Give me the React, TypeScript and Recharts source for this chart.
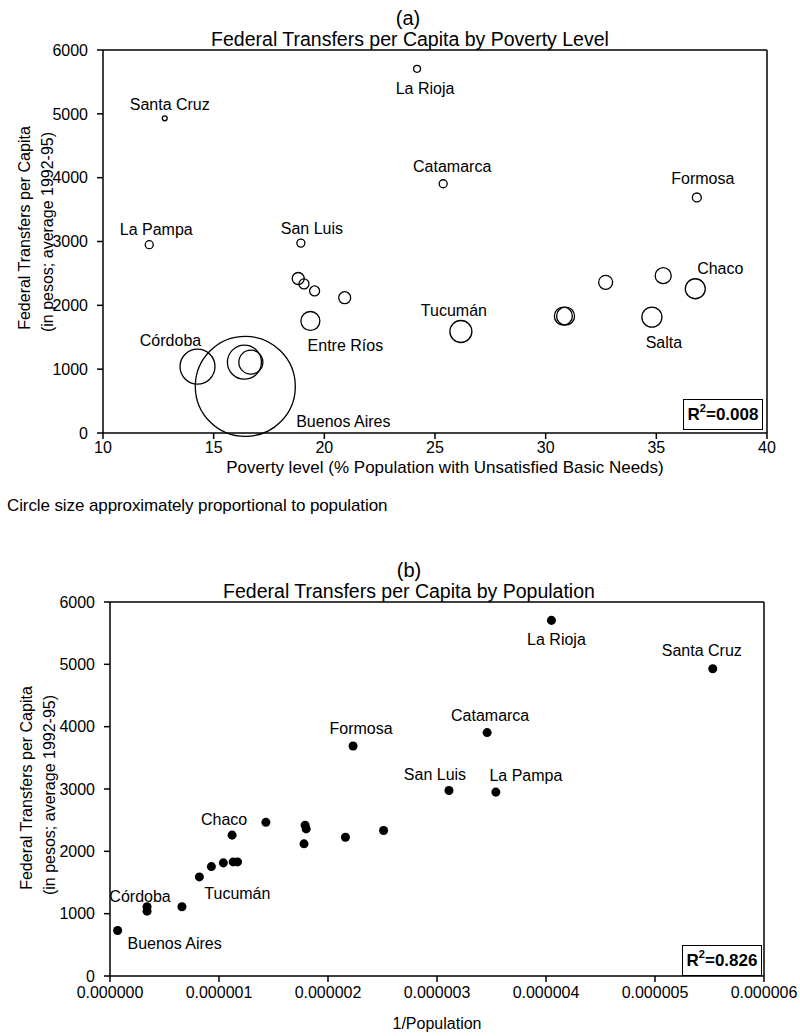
import React from 'react';
import { ScatterChart, Scatter, XAxis, YAxis, ZAxis, ReferenceLine } from 'recharts';

const FONT = '"Liberation Sans", Arial, sans-serif';

// one entry per province, same order in every array
const provinces = [
  'Buenos Aires', 'Córdoba', 'Santa Fe', 'Mendoza', 'Tucumán', 'Entre Ríos',
  'Salta', 'Misiones', 'Corrientes', 'Chaco', 'Santiago del Estero', 'Jujuy',
  'San Juan', 'Río Negro', 'Neuquén', 'Chubut', 'San Luis', 'Formosa',
  'Catamarca', 'La Rioja', 'La Pampa', 'Santa Cruz',
];
// % population with unsatisfied basic needs
const poverty = [
  16.43, 14.27, 16.39, 16.68, 26.17, 19.37,
  34.8, 30.8, 30.9, 36.76, 35.31, 32.71,
  18.82, 20.92, 19.56, 19.08, 18.94, 36.83,
  25.37, 24.19, 12.09, 12.79,
];
// federal transfers per capita, pesos, average 1992-95
const transfers = [
  730, 1040, 1110, 1110, 1590, 1755,
  1815, 1830, 1830, 2260, 2465, 2360,
  2420, 2120, 2225, 2335, 2975, 3690,
  3905, 5705, 2950, 4930,
];
// 1 / population
const inversePopulation = [
  0.00000007, 0.00000034, 0.00000034, 0.00000066, 0.00000082, 0.00000093,
  0.00000104, 0.00000113, 0.00000117, 0.00000112, 0.00000143, 0.0000018,
  0.00000179, 0.00000178, 0.00000216, 0.00000251, 0.00000311, 0.00000223,
  0.00000346, 0.00000405, 0.00000354, 0.00000553,
];
// relative circle area in panel (a), as drawn
const circleSize = [
  2500, 306, 289, 144, 121, 90,
  100, 81, 81, 100, 64, 49,
  36, 36, 25, 25, 16, 20,
  16, 12, 16, 6,
];

const povertyTicks = [10, 15, 20, 25, 30, 35, 40];
const transferTicks = [0, 1000, 2000, 3000, 4000, 5000, 6000];
const inversePopTicks = [0, 0.000001, 0.000002, 0.000003, 0.000004, 0.000005, 0.000006];

// label placement relative to the point centre
const labelOffsetA: Record<string, [number, number]> = {
  'Santa Cruz': [5, -14],
  'La Rioja': [8, 20],
  Catamarca: [9, -17],
  Formosa: [6, -19],
  'La Pampa': [7, -15],
  'San Luis': [11, -15],
  Chaco: [25, -20],
  'Tucumán': [-7, -21],
  'Córdoba': [-27, -26],
  'Entre Ríos': [35, 25],
  Salta: [12, 25],
  'Buenos Aires': [98, 35],
};
const labelOffsetB: Record<string, [number, number]> = {
  'La Rioja': [5, 19],
  'Santa Cruz': [-11, -18],
  Catamarca: [3, -17],
  Formosa: [8, -17],
  'San Luis': [-14, -16],
  'La Pampa': [30, -17],
  Chaco: [-8, -16],
  'Tucumán': [38, 17],
  'Córdoba': [-7, -15],
  'Buenos Aires': [57, 13],
};

const dataA = provinces.map((name, i) => ({ name, x: poverty[i], y: transfers[i], z: circleSize[i] }));
const dataB = provinces.map((name, i) => ({ name, x: inversePopulation[i], y: transfers[i] }));

const makeShape = (offsets: Record<string, [number, number]>, filled: boolean) => (props: any) => {
  const { cx, cy, payload } = props;
  const r = props.size ? Math.sqrt(props.size / Math.PI) : (props.width || 8) / 2;
  const off = offsets[payload.name];
  return (
    <g>
      <circle
        cx={cx}
        cy={cy}
        r={r}
        fill={filled ? '#000' : 'none'}
        stroke="#000"
        strokeWidth={filled ? 0 : 1.3}
      />
      {off && (
        <text
          x={cx + off[0]}
          y={cy + off[1]}
          textAnchor="middle"
          dominantBaseline="central"
          fontSize={16}
          fontFamily={FONT}
          fill="#000"
        >
          {payload.name}
        </text>
      )}
    </g>
  );
};

const line = { stroke: '#000', strokeWidth: 1.5 };
const tickFont = { fontSize: 16, fill: '#000', fontFamily: FONT };

function Txt({ x, y, size, rotate = 0, children }: any) {
  return (
    <div
      style={{
        position: 'absolute',
        left: x,
        top: y,
        transform: `translate(-50%, -50%) rotate(${rotate}deg)`,
        whiteSpace: 'nowrap',
        fontSize: size,
        fontFamily: FONT,
        lineHeight: 1,
        color: '#000',
      }}
    >
      {children}
    </div>
  );
}

function RBox({ left, top, value }: { left: number; top: number; value: string }) {
  return (
    <div
      style={{
        position: 'absolute',
        left,
        top,
        width: 80,
        height: 31,
        boxSizing: 'border-box',
        border: '1.5px solid #000',
        background: '#fff',
        display: 'flex',
        alignItems: 'center',
        justifyContent: 'center',
        fontFamily: FONT,
        fontWeight: 'bold',
        fontSize: 17,
        lineHeight: 1,
      }}
    >
      R<span style={{ fontSize: 11, position: 'relative', top: -6 }}>2</span>={value}
    </div>
  );
}

export default function App() {
  return (
    <div style={{ position: 'absolute', left: 0, top: 0, width: 800, height: 1036, background: '#fff' }}>
      {/* (a) */}
      <div style={{ position: 'absolute', left: 0, top: 0 }}>
        <ScatterChart width={800} height={520} margin={{ top: 50, right: 33, left: 0, bottom: 0 }}>
          <XAxis
            type="number"
            dataKey="x"
            domain={[10, 40]}
            ticks={povertyTicks}
            interval={0}
            height={87}
            tickSize={6}
            tickMargin={3}
            tick={tickFont}
            axisLine={line}
            tickLine={line}
          />
          <YAxis
            type="number"
            dataKey="y"
            domain={[0, 6000]}
            ticks={transferTicks}
            interval={0}
            width={103}
            tickSize={6}
            tickMargin={9}
            tick={tickFont}
            axisLine={line}
            tickLine={line}
          />
          <ZAxis type="number" dataKey="z" domain={[0, 2500]} range={[0, Math.PI * 50 * 50]} />
          <ReferenceLine y={6000} stroke="#000" strokeWidth={1.5} />
          <ReferenceLine x={40} stroke="#000" strokeWidth={1.5} />
          <Scatter data={dataA} shape={makeShape(labelOffsetA, false)} isAnimationActive={false} />
        </ScatterChart>
      </div>
      <Txt x={408} y={18} size={20}>(a)</Txt>
      <Txt x={410} y={40} size={19.5}>Federal Transfers per Capita by Poverty Level</Txt>
      <Txt x={25} y={228} size={16} rotate={-90}>Federal Transfers per Capita</Txt>
      <Txt x={48} y={232} size={16} rotate={-90}>(in pesos; average 1992-95)</Txt>
      <Txt x={445} y={467} size={17}>Poverty level (% Population with Unsatisfied Basic Needs)</Txt>
      <div
        style={{
          position: 'absolute',
          left: 7,
          top: 497,
          fontSize: 17,
          fontFamily: FONT,
          letterSpacing: -0.1,
          whiteSpace: 'nowrap',
          lineHeight: 1,
        }}
      >
        Circle size approximately proportional to population
      </div>
      <RBox left={683} top={399} value="0.008" />

      {/* (b) */}
      <div style={{ position: 'absolute', left: 0, top: 540 }}>
        <ScatterChart width={800} height={496} margin={{ top: 62, right: 36, left: 0, bottom: 0 }}>
          <XAxis
            type="number"
            dataKey="x"
            domain={[0, 0.000006]}
            ticks={inversePopTicks}
            interval={0}
            height={60}
            tickSize={6}
            tickMargin={5}
            tickFormatter={(v: number) => v.toFixed(6)}
            tick={tickFont}
            axisLine={line}
            tickLine={line}
          />
          <YAxis
            type="number"
            dataKey="y"
            domain={[0, 6000]}
            ticks={transferTicks}
            interval={0}
            width={110}
            tickSize={6}
            tickMargin={9}
            tick={tickFont}
            axisLine={line}
            tickLine={line}
          />
          <ZAxis range={[154, 154]} />
          <ReferenceLine y={6000} stroke="#000" strokeWidth={1.5} />
          <ReferenceLine x={0.000006} stroke="#000" strokeWidth={1.5} />
          <Scatter data={dataB} shape={makeShape(labelOffsetB, true)} isAnimationActive={false} />
        </ScatterChart>
      </div>
      <Txt x={409} y={570} size={20}>(b)</Txt>
      <Txt x={409} y={592} size={19.5}>Federal Transfers per Capita by Population</Txt>
      <Txt x={27} y={788} size={16} rotate={-90}>Federal Transfers per Capita</Txt>
      <Txt x={50} y={795} size={16} rotate={-90}>(in pesos; average 1992-95)</Txt>
      <Txt x={437} y={1024} size={16}>1/Population</Txt>
      <RBox left={682} top={945} value="0.826" />
    </div>
  );
}
